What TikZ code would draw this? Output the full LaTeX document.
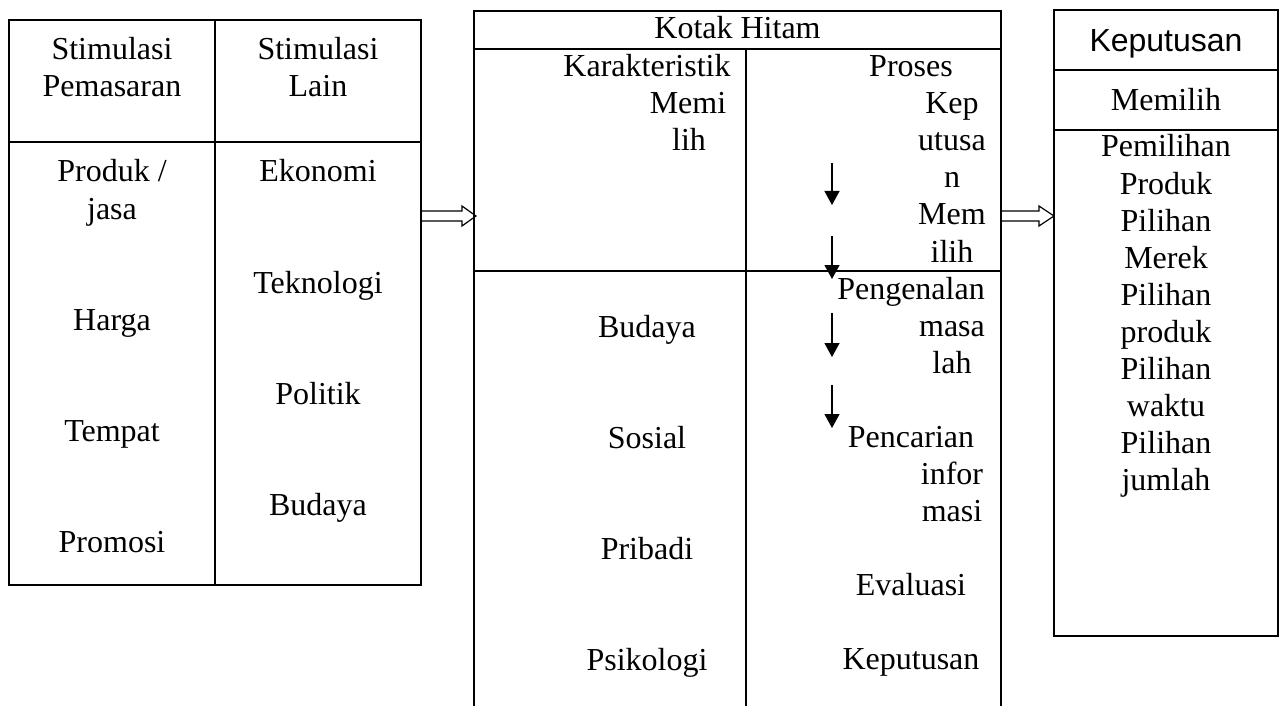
\documentclass[tikz,border=0pt]{standalone}
\usepackage{fontspec}
\setmainfont{Liberation Serif}
\newfontfamily\hdsans{Liberation Sans}
\usetikzlibrary{arrows.meta,calc}
\begin{document}
\begin{tikzpicture}[x=1pt,y=-1pt,
  box/.style={draw,line width=1.5pt,inner sep=0pt,outer sep=0pt,anchor=north west},
  ln/.style={line width=1.5pt},
  t/.style={anchor=base,inner sep=0pt,font=\fontsize{32}{37}\selectfont},
  ts/.style={anchor=base,inner sep=0pt,font=\hdsans\fontsize{32}{37}\selectfont},
  darr/.style={line width=1.3pt,-{Triangle[length=14pt,width=15pt]}},
  barr/.style={draw,line width=1.2pt,line join=miter}]
\useasboundingbox (0,0) rectangle (1286,706);

% ---- block arrows (drawn first) ----
\coordinate (A1s) at (421,216); \coordinate (A1e) at (476,216);
\draw[barr] ($(A1s)+(0,-5)$) -- ($(A1e)+(-14,-5)$) -- ($(A1e)+(-14,-10)$) -- (A1e)
  -- ($(A1e)+(-14,10)$) -- ($(A1e)+(-14,5)$) -- ($(A1s)+(0,5)$);
\coordinate (A2s) at (1001,216); \coordinate (A2e) at (1054,216);
\draw[barr] ($(A2s)+(0,-5)$) -- ($(A2e)+(-15,-5)$) -- ($(A2e)+(-15,-10)$) -- (A2e)
  -- ($(A2e)+(-15,10)$) -- ($(A2e)+(-15,5)$) -- ($(A2s)+(0,5)$);

% ---- left box ----
\node[box,minimum width=412pt,minimum height=565pt] (LB) at (9,20) {};
\draw[ln] (LB.north) -- (LB.south);
\draw[ln] (LB.west |- 0,142) -- (LB.east |- 0,142);

\node[t] (l1) at (112,60) {Stimulasi};
\node[t] (l2) at (112,97) {Pemasaran};
\node[t] (l3) at (112,182) {Produk /};
\node[t] (l4) at (112,219) {jasa};
\node[t] (l5) at (112,330) {Harga};
\node[t] (l6) at (112,441) {Tempat};
\node[t] (l7) at (112,552) {Promosi};

\node[t] (r1) at (318,60) {Stimulasi};
\node[t] (r2) at (318,97) {Lain};
\node[t] (r3) at (318,182) {Ekonomi};
\node[t] (r4) at (318,293) {Teknologi};
\node[t] (r5) at (318,404) {Politik};
\node[t] (r6) at (318,515) {Budaya};

% ---- middle box (open at bottom) ----
\draw[ln] (474,706) -- (474,11) -- (1001,11) -- (1001,706);
\draw[ln] (474,49) -- (1001,49);
\draw[ln] (746,49) -- (746,706);
\draw[ln] (474,271) -- (1001,271);

\node[t] (kh) at (737.5,39) {Kotak Hitam};
\node[t] (m1) at (647,77) {Karakteristik};
\node[t] (m2) at (688,114) {Memi};
\node[t] (m3) at (689,151) {lih};
\node[t] (m4) at (647,337) {Budaya};
\node[t] (m5) at (647,448) {Sosial};
\node[t] (m6) at (647,559) {Pribadi};
\node[t] (m7) at (647,670) {Psikologi};

\node[t] (p1) at (911,77) {Proses};
\node[t] (p2) at (952,114) {Kep};
\node[t] (p3) at (952,151) {utusa};
\node[t] (p4) at (952,188) {n};
\node[t] (p5) at (952,225) {Mem};
\node[t] (p6) at (952,262) {ilih};
\node[t] (p7) at (911,299) {Pengenalan};
\node[t] (p8) at (952,336) {masa};
\node[t] (p9) at (952,373) {lah};
\node[t] (p10) at (911,447) {Pencarian};
\node[t] (p11) at (952,484) {infor};
\node[t] (p12) at (952,521) {masi};
\node[t] (p13) at (911,595) {Evaluasi};
\node[t] (p14) at (911,669) {Keputusan};

% down arrows
\coordinate (d1a) at (832,163); \coordinate (d1b) at (832,205);
\coordinate (d2a) at (832,236); \coordinate (d2b) at (832,279);
\coordinate (d3a) at (832,313); \coordinate (d3b) at (832,357);
\coordinate (d4a) at (832,385); \coordinate (d4b) at (832,428);
\draw[darr] (d1a) -- (d1b);
\draw[darr] (d2a) -- (d2b);
\draw[darr] (d3a) -- (d3b);
\draw[darr] (d4a) -- (d4b);

% ---- right box ----
\node[box,minimum width=224pt,minimum height=626pt] (RB) at (1054,10) {};
\draw[ln] (RB.west |- 0,70) -- (RB.east |- 0,70);
\draw[ln] (RB.west |- 0,130) -- (RB.east |- 0,130);

\node[ts] (k0) at (1166,52) {Keputusan};
\node[t] (k1) at (1166,111) {Memilih};
\node[t] (k2) at (1166,157) {Pemilihan};
\node[t] (k3) at (1166,194) {Produk};
\node[t] (k4) at (1166,231) {Pilihan};
\node[t] (k5) at (1166,268) {Merek};
\node[t] (k6) at (1166,305) {Pilihan};
\node[t] (k7) at (1166,342) {produk};
\node[t] (k8) at (1166,379) {Pilihan};
\node[t] (k9) at (1166,416) {waktu};
\node[t] (k10) at (1166,453) {Pilihan};
\node[t] (k11) at (1166,490) {jumlah};
\end{tikzpicture}
\end{document}
